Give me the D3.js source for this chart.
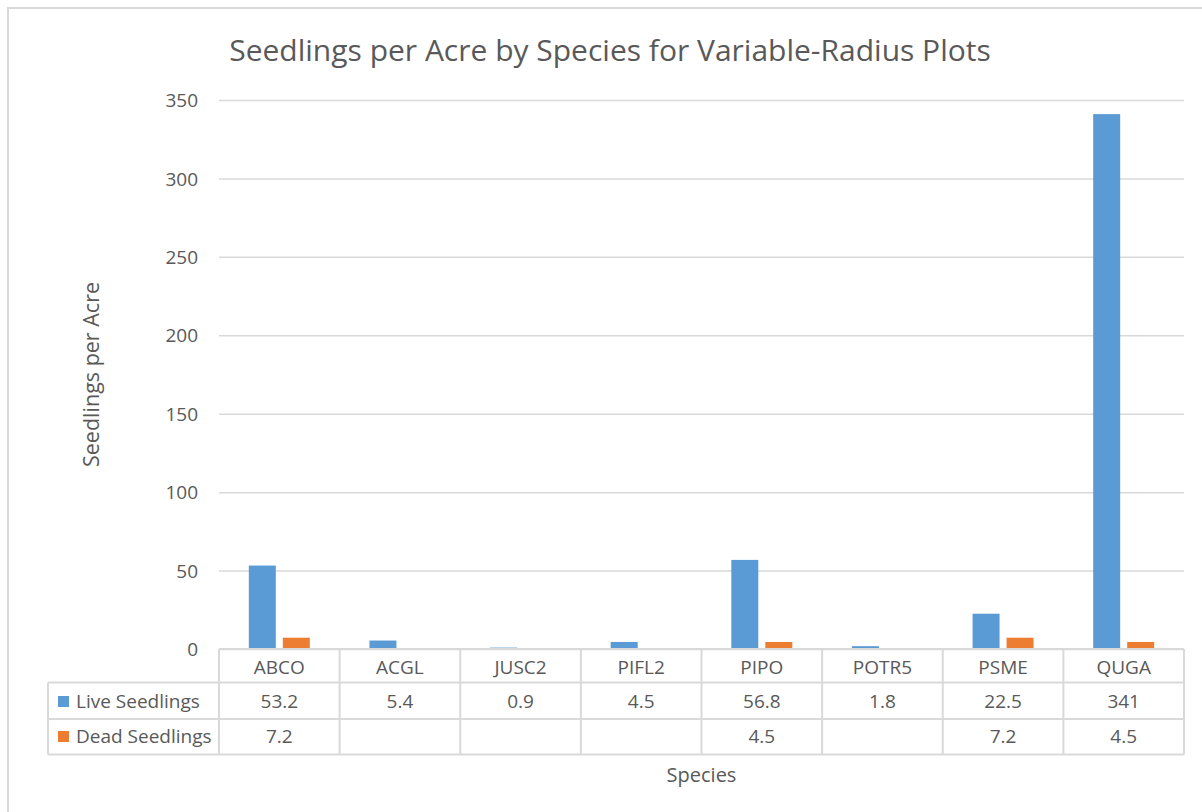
<!DOCTYPE html>
<html>
<head>
<meta charset="utf-8">
<script src="https://cdn.jsdelivr.net/npm/d3@7"></script>
<style>
  html, body { margin: 0; padding: 0; background: #fff; }
  svg { display: block; }
  text { font-family: "Open Sans", "Noto Sans", sans-serif; fill: #595959; }
</style>
</head>
<body>
<svg id="chart" width="1202" height="812"></svg>
<script>
// ---- data ----
const categories = ["ABCO", "ACGL", "JUSC2", "PIFL2", "PIPO", "POTR5", "PSME", "QUGA"];
const seriesNames = ["Live Seedlings", "Dead Seedlings"];
const liveSeedlings = [53.2, 5.4, 0.9, 4.5, 56.8, 1.8, 22.5, 341];
const deadSeedlings = [7.2, null, null, null, 4.5, null, 7.2, 4.5];
const yTicks = [0, 50, 100, 150, 200, 250, 300, 350];
const titleText = "Seedlings per Acre by Species for Variable-Radius Plots";
const yTitle = "Seedlings per Acre";
const xTitle = "Species";

// ---- layout ----
const W = 1202, H = 812;
const plot = { left: 219, right: 1184, top: 100, bottom: 649 };
const rowH = 35.5;
const tableLeft = 48;
const colors = ["#5B9BD5", "#ED7D31"];
const grid = "#d9d9d9";

const svg = d3.select("#chart");

// outer chart border
svg.append("rect")
  .attr("x", 8).attr("y", 8)
  .attr("width", W + 20).attr("height", H + 20)
  .attr("fill", "none").attr("stroke", grid).attr("stroke-width", 2);

const x0 = d3.scaleBand().domain(categories).range([plot.left, plot.right]).paddingInner(0).paddingOuter(0);
const x1 = d3.scaleBand().domain(seriesNames).range([0, x0.bandwidth()]).paddingInner(0.206).paddingOuter(0.877);
const y = d3.scaleLinear().domain([0, 350]).range([plot.bottom, plot.top]);

// y axis with gridlines
const yAxis = svg.append("g")
  .attr("transform", `translate(${plot.left},0)`)
  .call(d3.axisLeft(y).tickValues(yTicks).tickSize(-(plot.right - plot.left)).tickPadding(21));
yAxis.select(".domain").remove();
yAxis.selectAll(".tick line").attr("stroke", grid).attr("stroke-width", 1.5);
yAxis.selectAll(".tick text")
  .style("font-family", '"Open Sans", "Noto Sans", sans-serif')
  .style("font-size", "19px").attr("fill", "#595959").attr("dy", "0.35em");

// bars
const seriesData = [liveSeedlings, deadSeedlings];
seriesData.forEach((vals, si) => {
  svg.append("g").selectAll("rect")
    .data(categories.map((c, i) => ({ c, v: vals[i] })).filter(d => d.v != null))
    .join("rect")
    .attr("x", d => x0(d.c) + x1(seriesNames[si]))
    .attr("width", x1.bandwidth())
    .attr("y", d => y(d.v))
    .attr("height", d => y(0) - y(d.v))
    .attr("fill", colors[si]);
});

// data table
const t = svg.append("g").attr("stroke", grid).attr("stroke-width", 2).attr("fill", "none");
const r0 = plot.bottom, r1 = r0 + rowH - 2, r2 = r1 + rowH + 1, r3 = r2 + rowH;
t.append("line").attr("x1", plot.left).attr("x2", plot.right).attr("y1", r0).attr("y2", r0);
[r1, r2, r3].forEach(yy => t.append("line").attr("x1", tableLeft).attr("x2", plot.right).attr("y1", yy).attr("y2", yy));
categories.forEach(c => t.append("line").attr("x1", x0(c)).attr("x2", x0(c)).attr("y1", r0).attr("y2", r3));
t.append("line").attr("x1", plot.right).attr("x2", plot.right).attr("y1", r0).attr("y2", r3);
t.append("line").attr("x1", tableLeft).attr("x2", tableLeft).attr("y1", r1).attr("y2", r3);

const cellFont = "19px";
svg.append("g").selectAll("text").data(categories).join("text")
  .attr("x", d => x0(d) + x0.bandwidth() / 2)
  .attr("y", 674)
  .attr("text-anchor", "middle").style("font-size", cellFont)
  .text(d => d);
const rowBase = [708, 743];
seriesData.forEach((vals, si) => {
  svg.append("g").selectAll("text").data(categories.map((c, i) => ({ c, v: vals[i] })).filter(d => d.v != null)).join("text")
    .attr("x", d => x0(d.c) + x0.bandwidth() / 2)
    .attr("y", rowBase[si])
    .attr("text-anchor", "middle").style("font-size", cellFont)
    .text(d => d.v);
  svg.append("rect").attr("x", 58).attr("y", rowBase[si] - 12).attr("width", 11).attr("height", 11).attr("fill", colors[si]);
  svg.append("text").attr("x", 76).attr("y", rowBase[si]).style("font-size", cellFont).text(seriesNames[si]);
});

// titles
svg.append("text").attr("x", 610).attr("y", 61).attr("text-anchor", "middle")
  .style("font-size", "30px").text(titleText);
svg.append("text").attr("x", (plot.left + plot.right) / 2).attr("y", 782).attr("text-anchor", "middle")
  .style("font-size", "20px").text(xTitle);
svg.append("text").attr("transform", `translate(99,${(plot.top + plot.bottom) / 2}) rotate(-90)`)
  .attr("text-anchor", "middle").style("font-size", "21.5px").text(yTitle);
</script>
</body>
</html>
